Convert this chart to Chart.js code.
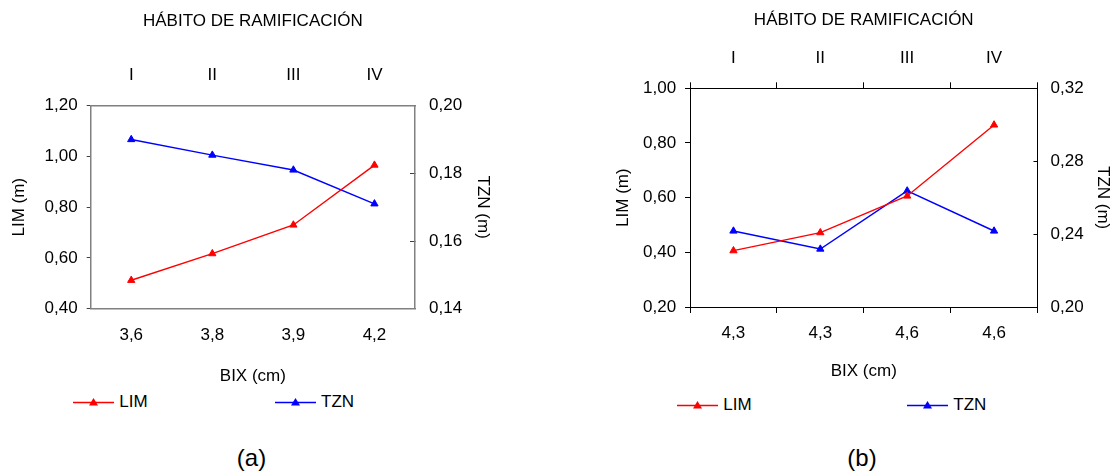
<!DOCTYPE html>
<html><head><meta charset="utf-8">
<script src="https://cdn.jsdelivr.net/npm/chart.js@4.4.1/dist/chart.umd.min.js"></script>
<style>
html,body{margin:0;padding:0;background:#fff;width:1114px;height:474px;overflow:hidden;font-family:'Liberation Sans',Arial,sans-serif;}
.panel{position:absolute;top:0;}
.lg{position:absolute;height:20px;display:flex;align-items:center;font-size:17px;color:#000;white-space:nowrap;}
.lg svg{display:block;margin-right:5px}
.cap{position:absolute;font-size:24px;color:#000;transform:translate(-50%,-50%);}
</style></head><body>
<canvas id="ca" class="panel" style="left:0px" width="500" height="390"></canvas>
<canvas id="cb" class="panel" style="left:557px" width="557" height="390"></canvas>
<div class="cap" style="left:251.5px;top:458px">(a)</div>
<div class="cap" style="left:862px;top:458px">(b)</div>
<script>
// ---- data ----
const habitLabels = ['I', 'II', 'III', 'IV'];
const bixA = ['3,6', '3,8', '3,9', '4,2'];
const limA = [0.512, 0.617, 0.730, 0.966];
const tznA = [0.190, 0.1854, 0.181, 0.171];
const bixB = ['4,3', '4,3', '4,6', '4,6'];
const limB = [0.406, 0.472, 0.606, 0.866];
const tznB = [0.2417, 0.2318, 0.2637, 0.2417];
const seriesNames = ['LIM', 'TZN'];
const limTicksA = [0.40, 1.20, 0.20];   // min, max, step
const tznTicksA = [0.14, 0.20, 0.02];
const limTicksB = [0.20, 1.00, 0.20];
const tznTicksB = [0.20, 0.32, 0.04];
const chartTitle = 'HÁBITO DE RAMIFICACIÓN';
const xTitle = 'BIX (cm)';
const yTitle = 'LIM (m)';
const y2Title = 'TZN (m)';

const FONT = "'Liberation Sans', Arial, sans-serif";
Chart.defaults.font.family = FONT;
Chart.defaults.font.size = 17;
Chart.defaults.color = '#000';

const fmt = v => Number(v).toFixed(2).replace('.', ',');
const RED = '#ff0000', BLUE = '#0000ff';

function makeChart(id, bix, lim, tzn, limT, tznT, G) {
  const LH = 17 * 1.2;
  const ds = (label, data, color, axis) => ({
    label, data, yAxisID: axis, xAxisID: 'x',
    borderColor: color, backgroundColor: color,
    borderWidth: 1.4, pointStyle: 'triangle', pointRadius: 4.2,
    pointBorderWidth: 1, pointBackgroundColor: color, pointBorderColor: color,
    tension: 0, fill: false
  });
  const ax = (extra) => Object.assign({
    border: {display: true, color: G.axisColor, width: G.axisWidth},
  }, extra);
  return new Chart(document.getElementById(id), {
    type: 'line',
    data: {
      labels: bix,
      datasets: [ds(seriesNames[0], lim, RED, 'y'), ds(seriesNames[1], tzn, BLUE, 'y2')]
    },
    options: {
      responsive: false, animation: false,
      layout: {padding: 0},
      plugins: {
        legend: {display: false},
        tooltip: {enabled: false},
        title: {display: true, text: chartTitle, fullSize: false,
          font: {size: 17, weight: 'normal'}, padding: {top: G.titlePad, bottom: 0}, color: '#000'}
      },
      scales: {
        x: ax({type: 'category', position: 'bottom', offset: true,
          grid: {offset: true, drawOnChartArea: false, drawTicks: G.xTicks, tickLength: G.xTl, color: G.tickColor},
          ticks: {padding: G.xPad, maxRotation: 0, autoSkip: false, color: '#000'},
          title: {display: true, text: xTitle, padding: {top: 0, bottom: G.xTitlePb}, color: '#000'},
          afterFit: s => { s.height = G.H - G.b; }
        }),
        x2: ax({type: 'category', position: 'top', offset: true, labels: habitLabels,
          grid: {offset: true, drawOnChartArea: false, drawTicks: G.xTicks, tickLength: G.xTl, color: G.tickColor},
          ticks: {padding: G.x2Pad, maxRotation: 0, autoSkip: false, color: '#000'},
          afterFit: s => { s.height = G.t - (LH + G.titlePad); }
        }),
        y: ax({type: 'linear', position: 'left', min: limT[0], max: limT[1],
          grid: {drawOnChartArea: false, drawTicks: true, tickLength: G.yTl, color: G.tickColor},
          ticks: {stepSize: limT[2], padding: G.yPad, callback: fmt, color: '#000'},
          title: {display: true, text: yTitle, padding: {top: G.yTitlePt, bottom: 0}, color: '#000'},
          afterFit: s => { s.width = G.l; }
        }),
        y2: ax({type: 'linear', position: 'right', min: tznT[0], max: tznT[1],
          grid: {drawOnChartArea: false, drawTicks: true, tickLength: G.y2Tl, color: G.tickColor},
          ticks: {stepSize: tznT[2], padding: G.y2Pad, callback: fmt, color: '#000'},
          title: {display: true, text: y2Title, padding: {top: G.y2TitlePt, bottom: 0}, color: '#000'},
          afterFit: s => { s.width = G.W - G.r; }
        })
      }
    }
  });
}

const geomA = {W: 500, H: 390, l: 90.7, r: 415, t: 105.7, b: 308.7, titlePad: 11,
  axisColor: '#808080', axisWidth: 1.5, tickColor: '#404040',
  xTicks: false, xTl: 0, xPad: 16, x2Pad: 20.5, xTitlePb: 3.8,
  yTl: 4, yPad: 9, yTitlePt: 8.8, y2Tl: -5, y2Pad: 19, y2TitlePt: 6.8};
const geomB = {W: 557, H: 390, l: 133, r: 480.5, t: 88.3, b: 307, titlePad: 9.8,
  axisColor: '#000000', axisWidth: 1, tickColor: '#000000',
  xTicks: true, xTl: 6, xPad: 10, x2Pad: 13.6, xTitlePb: 8.1,
  yTl: 5, yPad: 8.8, yTitlePt: 55.8, y2Tl: -4, y2Pad: 17, y2TitlePt: 0.8};

const chartA = makeChart('ca', bixA, limA, tznA, limTicksA, tznTicksA, geomA);
const chartB = makeChart('cb', bixB, limB, tznB, limTicksB, tznTicksB, geomB);

// HTML legend built from each chart's datasets
function htmlLegend(chart, xs, yc) {
  chart.data.datasets.forEach((d, i) => {
    const div = document.createElement('div');
    div.className = 'lg';
    div.style.left = xs[i] + 'px';
    div.style.top = (yc - 10) + 'px';
    const c = d.borderColor;
    div.innerHTML = '<svg width="41" height="10" viewBox="0 0 41 10">' +
      '<line x1="0" y1="5.5" x2="41" y2="5.5" stroke="' + c + '" stroke-width="1.4"/>' +
      '<polygon points="20.5,1 25,8.5 16,8.5" fill="' + c + '"/></svg>' +
      '<span>' + d.label + '</span>';
    document.body.appendChild(div);
  });
}
htmlLegend(chartA, [73.3, 275], 401.7);
htmlLegend(chartB, [677.3, 907.3], 405);
</script>
</body></html>
